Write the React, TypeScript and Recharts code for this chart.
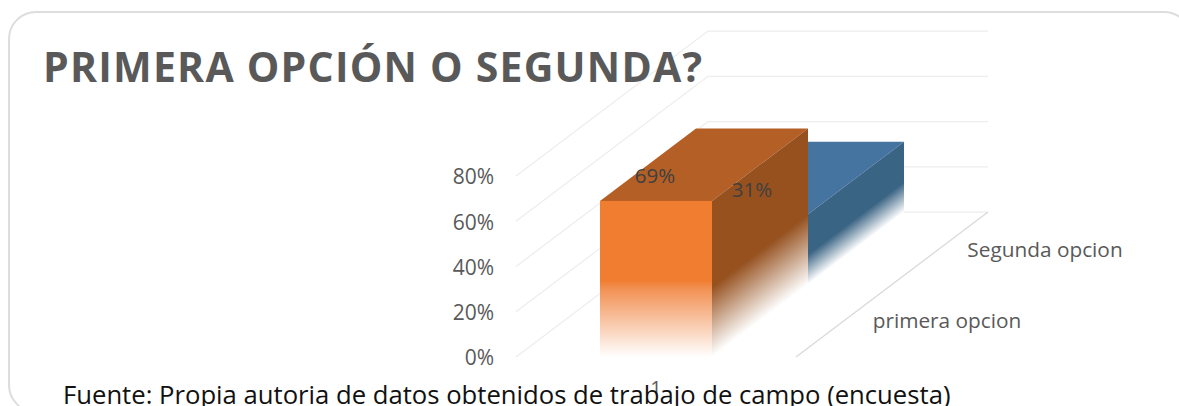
import React from 'react'
import { BarChart, Bar, XAxis, YAxis, CartesianGrid, LabelList } from 'recharts'

const categories = ['1']
const primeraOpcion = [69]
const segundaOpcion = [31]
const yTicks = [0, 20, 40, 60, 80]
const TITLE = 'PRIMERA OPCIÓN O SEGUNDA?'
const SOURCE = 'Fuente: Propia autoria de datos obtenidos de trabajo de campo (encuesta)'

const data = categories.map((name, i) => ({
  name,
  primera: primeraOpcion[i],
  segunda: segundaOpcion[i],
}))

// one series takes half the depth of the floor
const DX = 96
const DY = -72.5
const WALL_END = 988
const LABEL_FONT = '"Open Sans", sans-serif'
const GREY = '#595959'

const pts = (list: number[][]) => list.map((p) => p.join(',')).join(' ')

// gradient that fades a receding face parallel to its bottom edge
const sideFade = (id: string, color: string, x: number, base: number, fade: number) => {
  const len = Math.hypot(DX, DY)
  const dist = (fade * DX) / len
  const y0 = base - fade
  return (
    <linearGradient
      id={id}
      gradientUnits="userSpaceOnUse"
      x1={x}
      y1={y0}
      x2={x + (dist * -DY) / len}
      y2={y0 + (dist * DX) / len}
    >
      <stop offset="0" stopColor={color} />
      <stop offset="1" stopColor="#fff" />
    </linearGradient>
  )
}

const PrimeraShape = (props: any) => {
  const { x, y, width, height } = props
  const right = x + width
  const base = y + height
  return (
    <g>
      <defs>
        <linearGradient id="frontFade" x1="0" y1="0" x2="0" y2="1">
          <stop offset="0.51" stopColor="#F07D30" />
          <stop offset="0.56" stopColor="#F29052" />
          <stop offset="1" stopColor="#fff" />
        </linearGradient>
        {sideFade('orangeSide', '#96511F', right, base, 70)}
      </defs>
      <polygon
        points={pts([[x, y], [x + DX, y + DY], [right + DX, y + DY], [right, y]])}
        fill="#B35F25"
      />
      <polygon
        points={pts([[right, y], [right + DX, y + DY], [right + DX, base + DY], [right, base]])}
        fill="url(#orangeSide)"
      />
      <rect x={x} y={y} width={width} height={height} fill="url(#frontFade)" />
      <text x={right + 235} y={base - 29} textAnchor="middle" fontSize={20.8} fontFamily={LABEL_FONT} fill={GREY}>
        primera opcion
      </text>
    </g>
  )
}

const SegundaShape = (props: any) => {
  const { x, y, width, height } = props
  const left = x + DX
  const right = left + width
  const top = y + DY
  const base = y + height + DY
  return (
    <g>
      <defs>{sideFade('blueSide', '#3A6484', right, base, 30)}</defs>
      <polygon
        points={pts([[left, top], [left + DX, top + DY], [right + DX, top + DY], [right, top]])}
        fill="#44749F"
      />
      <polygon
        points={pts([[right, top], [right + DX, top + DY], [right + DX, base + DY], [right, base]])}
        fill="url(#blueSide)"
      />
      <text x={right + 237} y={base - 28} textAnchor="middle" fontSize={20.8} fontFamily={LABEL_FONT} fill={GREY}>
        Segunda opcion
      </text>
    </g>
  )
}

// back wall and side wall lines, taken from the horizontal grid positions
const wallLine = (props: any) => {
  const { x1, y1, x2, y2, index } = props
  return (
    <g key={`wall-${index}`}>
      <polyline
        points={pts([[x1, y1], [x1 + 2 * DX, y1 + 2 * DY], [WALL_END, y1 + 2 * DY]])}
        fill="none"
        stroke="#EDEDED"
        strokeWidth={1.25}
      />
      {index === 0 && (
        <line x1={x2} y1={y2} x2={WALL_END} y2={y2 + 2 * DY} stroke="#D9D9D9" strokeWidth={1.25} />
      )}
    </g>
  )
}

const barLabel = (dx: number, dy: number) => (props: any) => {
  const { viewBox, value } = props
  return (
    <text
      x={viewBox.x + dx}
      y={viewBox.y + dy}
      textAnchor="middle"
      dominantBaseline="central"
      fontSize={20.5}
      fontFamily={LABEL_FONT}
      fill="#404040"
    >
      {value}%
    </text>
  )
}

export default function App() {
  return (
    <div
      style={{
        position: 'absolute',
        left: 0,
        top: 0,
        width: 1179,
        height: 406,
        overflow: 'hidden',
        background: '#fff',
      }}
    >
      <div
        style={{
          position: 'absolute',
          left: 8,
          top: 11,
          width: 1180,
          height: 398,
          border: '2px solid #DDDDDD',
          borderRadius: 28,
        }}
      />
      <div style={{ position: 'absolute', left: 0, top: 0 }}>
        <BarChart
          width={1179}
          height={406}
          data={data}
          barSize={112}
          barGap={-112}
          margin={{ top: 176, right: 383, bottom: 0, left: 452 }}
        >
          <CartesianGrid vertical={false} horizontal={wallLine} />
          <XAxis
            dataKey="name"
            height={49}
            axisLine={false}
            tickLine={false}
            tickMargin={18}
            tick={{ fontSize: 20, fontFamily: LABEL_FONT, fill: GREY }}
          />
          <YAxis
            width={64}
            domain={[0, 80]}
            ticks={yTicks}
            tickFormatter={(v) => `${v}%`}
            axisLine={false}
            tickLine={false}
            tickSize={0}
            tickMargin={22}
            tick={{ fontSize: 21, fontFamily: LABEL_FONT, fill: GREY, dy: 1 }}
          />
          <Bar dataKey="segunda" shape={SegundaShape} isAnimationActive={false} />
          <Bar dataKey="primera" shape={PrimeraShape} isAnimationActive={false}>
            <LabelList dataKey="primera" content={barLabel(55, -26)} />
            <LabelList dataKey="segunda" content={barLabel(152, -12)} />
          </Bar>
        </BarChart>
      </div>
      <div
        style={{
          position: 'absolute',
          left: 43,
          top: 38,
          fontFamily: LABEL_FONT,
          fontWeight: 700,
          fontSize: 41,
          letterSpacing: 1.22,
          lineHeight: '56px',
          color: GREY,
          whiteSpace: 'nowrap',
        }}
      >
        {TITLE}
      </div>
      <div
        style={{
          position: 'absolute',
          left: 63,
          top: 377,
          fontFamily: LABEL_FONT,
          fontSize: 25.67,
          lineHeight: '36px',
          color: '#111',
          whiteSpace: 'nowrap',
        }}
      >
        {SOURCE}
      </div>
    </div>
  )
}
